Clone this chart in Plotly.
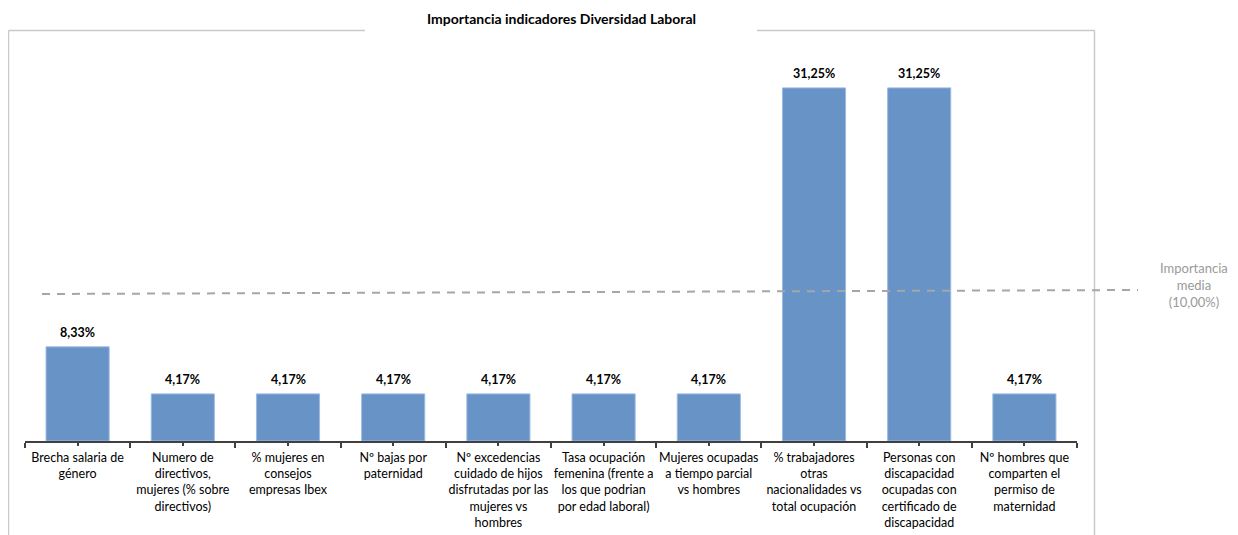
import plotly.graph_objects as go

title = "Importancia indicadores Diversidad Laboral"
categories = [
    "Brecha salaria de<br>género",
    "Numero de<br>directivos,<br>mujeres (% sobre<br>directivos)",
    "% mujeres en<br>consejos<br>empresas Ibex",
    "Nº bajas por<br>paternidad",
    "Nº excedencias<br>cuidado de hijos<br>disfrutadas por las<br>mujeres vs<br>hombres",
    "Tasa ocupación<br>femenina (frente a<br>los que podrian<br>por edad laboral)",
    "Mujeres ocupadas<br>a tiempo parcial<br>vs hombres",
    "% trabajadores<br>otras<br>nacionalidades vs<br>total ocupación",
    "Personas con<br>discapacidad<br>ocupadas con<br>certificado de<br>discapacidad",
    "Nº hombres que<br>comparten el<br>permiso de<br>maternidad",
]
values = [8.33, 4.17, 4.17, 4.17, 4.17, 4.17, 4.17, 31.25, 31.25, 4.17]
mean_value = 10.00

FONT = "Lato"
BAR = "#6893c6"
GRID = "#c9c9c9"

def fmt(v):
    return f"{v:.2f}".replace(".", ",") + "%"

xs = list(range(len(categories)))

# page has an 8px body margin; figure drawn at (8, 8)
OFF = 8
FW, FH = 1238 - OFF, 535 - OFF
L = 25 - OFF
R = FW - (1077 - OFF)
B = FH - (441 - OFF)
T = 46 - OFF
W = FW - L - R
H = FH - T - B

def px(x):
    return (x - OFF - L) / W

def py(y):
    return (FH - B - (y - OFF)) / H

fig = go.Figure()
fig.add_trace(go.Bar(
    x=xs, y=values, width=0.6,
    marker=dict(color=BAR, line=dict(color="#9dbbe0", width=1)),
    hoverinfo="skip",
))

annotations = []
for x, v in zip(xs, values):
    annotations.append(dict(
        x=x, y=v, xref="x", yref="y", text=f"<b>{fmt(v)}</b>",
        showarrow=False, yanchor="bottom", yshift=5,
        font=dict(family=FONT, size=12.5, color="#000000"),
    ))

annotations.append(dict(
    x=px(1194), y=py(285), xref="paper", yref="paper",
    text=f"Importancia<br>media<br>({fmt(mean_value)})",
    showarrow=False, xanchor="center", yanchor="middle",
    font=dict(family=FONT, size=13, color="#9a9a9a"),
))
annotations.append(dict(
    x=px(561), y=py(18), xref="paper", yref="paper",
    text=f"<b>{title}</b>", showarrow=False,
    xanchor="center", yanchor="middle",
    font=dict(family=FONT, size=14, color="#000000"),
))

shapes = [
    dict(type="line", xref="paper", yref="paper", x0=px(8.5), x1=px(365), y0=py(30.5), y1=py(30.5),
         line=dict(color=GRID, width=1.5)),
    dict(type="line", xref="paper", yref="paper", x0=px(757), x1=px(1094.5), y0=py(30.5), y1=py(30.5),
         line=dict(color=GRID, width=1.5)),
    dict(type="line", xref="paper", yref="paper", x0=px(8.5), x1=px(8.5), y0=py(30.5), y1=py(545),
         line=dict(color=GRID, width=1.5)),
    dict(type="line", xref="paper", yref="paper", x0=px(1094.5), x1=px(1094.5), y0=py(30.5), y1=py(545),
         line=dict(color=GRID, width=1.5)),
    dict(type="line", xref="paper", yref="paper", x0=px(42), x1=px(1138), y0=py(294), y1=py(290),
         line=dict(color="#a6a6a6", width=2, dash="8px,7px")),
]

fig.update_layout(
    width=FW, height=FH,
    margin=dict(l=L, r=R, t=T, b=B, autoexpand=False),
    paper_bgcolor="white", plot_bgcolor="white",
    showlegend=False,
    annotations=annotations,
    shapes=shapes,
    font=dict(family=FONT, size=12.5, color="#000000"),
    xaxis=dict(
        range=[-0.5, len(categories) - 0.5],
        tickvals=xs, ticktext=categories,
        showline=True, linecolor="#404040", linewidth=1.5,
        ticks="outside", ticklen=3, tickcolor="#404040", tickwidth=1.5,
        minor=dict(tick0=-0.5, dtick=1, ticks="outside", ticklen=5, tickcolor="#404040", tickwidth=1.5),
        ticklabelstandoff=1, automargin=False,
        showgrid=False, zeroline=False, fixedrange=True,
        tickfont=dict(family=FONT, size=12.5, color="#000000"),
    ),
    yaxis=dict(
        range=[0, H / 11.3], visible=False, showgrid=False, zeroline=False, fixedrange=True,
        automargin=False,
    ),
)

fig.write_html("out.html")
